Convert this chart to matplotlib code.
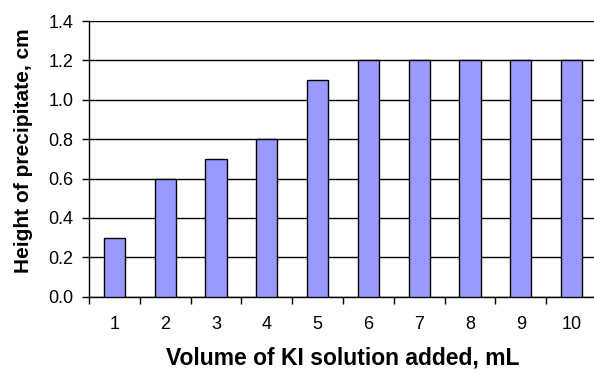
import numpy as np
import matplotlib
matplotlib.use("Agg")
import matplotlib.pyplot as plt

volumes = ["1", "2", "3", "4", "5", "6", "7", "8", "9", "10"]
heights = [0.3, 0.6, 0.7, 0.8, 1.1, 1.2, 1.2, 1.2, 1.2, 1.2]
y_ticks = [0.0, 0.2, 0.4, 0.6, 0.8, 1.0, 1.2, 1.4]

plt.rcParams['font.family'] = ['Liberation Sans', 'DejaVu Sans']

fig = plt.figure(figsize=(5.94, 3.70), dpi=100)
# plot area runs a little past the right edge, as in the original
ax = fig.add_axes([89/594, (370-296.7)/370, (597-89)/594, (296.7-21)/370])

x = np.arange(len(volumes))
ax.bar(x, heights, width=0.42, color="#9999FF", edgecolor="black", linewidth=1, zorder=3)

ax.set_xlim(-0.5, len(volumes) - 0.5)
ax.set_ylim(0, 1.4)
ax.set_yticks(y_ticks)
ax.set_yticklabels([f"{v:.1f}" for v in y_ticks])
ax.yaxis.grid(True, color="black", linewidth=1, zorder=0)

# category labels centred, tick marks between categories
ax.set_xticks(x)
ax.set_xticklabels(volumes)
ax.set_xticks(np.arange(-0.5, len(volumes) + 0.5, 1), minor=True)
ax.tick_params(axis="x", which="major", length=0, pad=14, labelsize=13)
ax.tick_params(axis="x", which="minor", length=5, width=1, direction="out")
ax.tick_params(axis="y", length=5, width=1, direction="out", pad=6, labelsize=13)

for side in ["top", "right"]:
    ax.spines[side].set_visible(False)
ax.spines["left"].set_linewidth(1)
ax.spines["bottom"].set_linewidth(1)

ax.set_xlabel("Volume of KI solution added, mL", fontsize=16.5, fontweight="bold")
ax.set_ylabel("Height of precipitate, cm", fontsize=15, fontweight="bold")
ax.xaxis.set_label_coords(0.5, -0.18)
ax.yaxis.set_label_coords(-0.11, 0.53)

fig.savefig("out.png", dpi=100)
